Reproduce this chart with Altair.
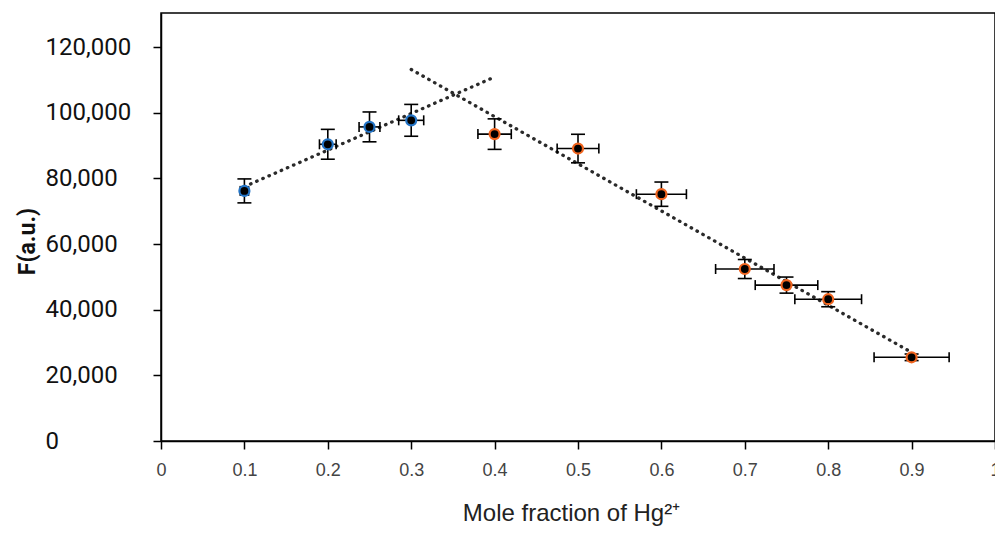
import altair as alt
import pandas as pd

# ---- data ----
mole_fraction = [0.1, 0.2, 0.25, 0.3, 0.4, 0.5, 0.6, 0.7, 0.75, 0.8, 0.9]
intensity = [76200, 90400, 95700, 97700, 93500, 89100, 75200, 52400, 47500, 43200, 25500]
intensity_err = [3650, 4550, 4550, 4850, 4650, 4350, 3700, 2900, 2450, 2300, 1000]
fraction_err = [0.005, 0.01, 0.0125, 0.015, 0.02, 0.025, 0.03, 0.035, 0.0375, 0.04, 0.045]
series = ["blue", "blue", "blue", "blue", "orange", "orange", "orange",
          "orange", "orange", "orange", "orange"]

trend_x = [0.1, 0.4, 0.3, 0.9]
trend_y = [77500, 110900, 113200, 27000]
trend_series = ["blue", "blue", "orange", "orange"]

x_ticks = [0, 0.1, 0.2, 0.3, 0.4, 0.5, 0.6, 0.7, 0.8, 0.9, 1.0]
y_ticks = [0, 20000, 40000, 60000, 80000, 100000, 120000]

df = pd.DataFrame({
    "x": mole_fraction,
    "F": intensity,
    "ferr": intensity_err,
    "xerr": fraction_err,
    "series": series,
})
trend = pd.DataFrame({"x": trend_x, "F": trend_y, "series": trend_series})

xs = alt.Scale(domain=[0, 1], nice=False, zero=False)
ys = alt.Scale(domain=[0, 130400], nice=False)

xaxis = alt.Axis(
    values=x_ticks, labelExpr="format(datum.value, '.1~f')", grid=False,
    domainColor="black", domainWidth=1.5, tickColor="black", tickWidth=1.5, tickSize=8,
    labelFont="Liberation Sans Narrow, Liberation Sans, sans-serif", labelFontSize=18,
    labelColor="#444", labelPadding=12, labelFlush=False, labelOverlap=False,
    title="Mole fraction of Hg²⁺", titleFont="Liberation Sans, sans-serif",
    titleFontSize=24, titleFontWeight="normal", titleColor="#222",
    titleX=410, titleY=79, titleAlign="center", titleBaseline="alphabetic",
)
yaxis = alt.Axis(
    values=y_ticks, format=",d", grid=False,
    domainColor="black", domainWidth=1.5, tickColor="black", tickWidth=1.5, tickSize=8,
    labelFont="Roboto", labelFontSize=24, labelColor="#111", labelAlign="left",
    labelBaseline="middle", labelPadding=108, labelFlush=False, labelOverlap=False,
    title="F(a.u.)", titleFont="Roboto", titleFontSize=23, titleFontWeight="bold",
    titleColor="#111", titleX=-134, titleY=228, titleAngle=270,
    titleAlign="center", titleBaseline="middle",
)

color_scale = alt.Scale(domain=["blue", "orange"], range=["#2374C6", "#F0641E"])

base = alt.Chart(df).transform_calculate(
    f_lo="datum.F - datum.ferr", f_hi="datum.F + datum.ferr",
    x_lo="datum.x - datum.xerr", x_hi="datum.x + datum.xerr",
)

X = lambda f: alt.X(f, type="quantitative", scale=xs, axis=xaxis)
Y = lambda f: alt.Y(f, type="quantitative", scale=ys, axis=yaxis)

lines = alt.Chart(trend).mark_line(
    strokeDash=[0.5, 6.2], strokeWidth=3.3, strokeCap="round", color="#2a2a2a"
).encode(x=X("x"), y=Y("F"), detail="series:N")

v_err = base.mark_rule(color="black", strokeWidth=1.6).encode(
    x=X("x"), y=Y("f_lo"), y2="f_hi:Q")
v_cap_lo = base.mark_rule(color="black", strokeWidth=1.6, xOffset=-7, x2Offset=7).encode(
    x=X("x"), x2="x:Q", y=Y("f_lo"))
v_cap_hi = base.mark_rule(color="black", strokeWidth=1.6, xOffset=-7, x2Offset=7).encode(
    x=X("x"), x2="x:Q", y=Y("f_hi"))
h_err = base.mark_rule(color="black", strokeWidth=1.6).encode(
    x=X("x_lo"), x2="x_hi:Q", y=Y("F"))
h_cap_lo = base.mark_rule(color="black", strokeWidth=1.6, yOffset=-5, y2Offset=5).encode(
    x=X("x_lo"), y=Y("F"), y2="F:Q")
h_cap_hi = base.mark_rule(color="black", strokeWidth=1.6, yOffset=-5, y2Offset=5).encode(
    x=X("x_hi"), y=Y("F"), y2="F:Q")

points = base.mark_circle(size=100, opacity=1, strokeWidth=2.2, fill="black").encode(
    x=X("x"), y=Y("F"),
    stroke=alt.Stroke("series:N", scale=color_scale, legend=None),
)

chart = alt.layer(
    lines, v_err, v_cap_lo, v_cap_hi, h_err, h_cap_lo, h_cap_hi, points
).properties(
    width=834, height=428,
    padding={"left": 153, "top": 5, "right": 0, "bottom": 86},
    autosize=alt.AutoSizeParams(type="none"),
).configure_view(stroke="black", strokeWidth=1.5)

chart.save("out.html", embed_options={"renderer": "svg", "actions": False})
